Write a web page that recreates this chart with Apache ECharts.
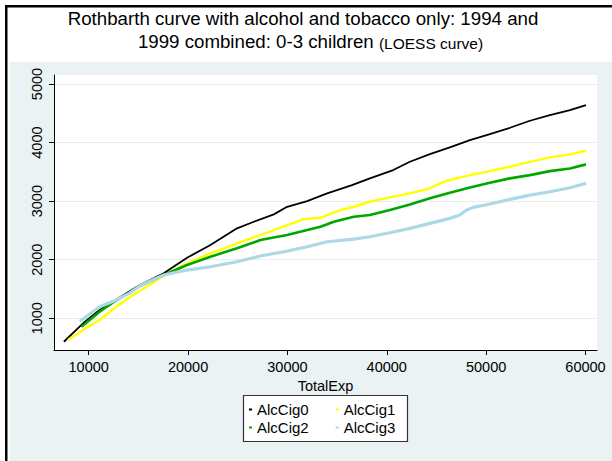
<!DOCTYPE html>
<html><head><meta charset="utf-8">
<script src="https://cdn.jsdelivr.net/npm/echarts@6/dist/echarts.min.js"></script>
<style>html,body{margin:0;padding:0;background:#fff}#c{width:612px;height:461px}</style>
</head><body><div id="c"></div><script>
// ---- data ----
var xTicks = [10000, 20000, 30000, 40000, 50000, 60000];
var yTicks = [1000, 2000, 3000, 4000, 5000];
var seriesNames = ['AlcCig0', 'AlcCig1', 'AlcCig2', 'AlcCig3'];

var alc0X = [7500, 9430, 11100, 12290, 15150, 17550, 19900, 22250, 24930, 26620, 28630, 29970, 31990, 34000, 36500, 38300, 40650, 42330, 44340, 46350, 48370, 50380, 52400, 54410, 56420, 58440, 60050];
var alc0Y = [600, 915, 1142, 1270, 1568, 1768, 2034, 2251, 2536, 2649, 2775, 2904, 3002, 3133, 3275, 3389, 3531, 3673, 3804, 3918, 4043, 4145, 4253, 4373, 4469, 4555, 4640];

var alc1X = [7900, 9430, 11100, 12790, 14460, 16140, 17550, 19900, 22250, 24930, 27280, 29970, 31650, 33330, 35340, 36690, 38300, 40310, 42330, 44340, 45350, 46020, 48370, 50380, 52400, 54410, 56420, 58440, 60050];
var alc1Y = [630, 800, 971, 1198, 1398, 1568, 1725, 1939, 2109, 2280, 2422, 2592, 2694, 2717, 2848, 2905, 2990, 3065, 3133, 3218, 3303, 3348, 3445, 3513, 3587, 3672, 3747, 3799, 3860];

var alc2X = [9265, 11100, 12450, 15200, 17550, 19900, 22250, 24930, 27280, 29970, 31990, 33330, 34670, 36690, 38300, 40310, 42330, 44340, 46350, 48370, 50380, 52400, 54410, 56420, 58440, 60050];
var alc2Y = [857, 1113, 1270, 1556, 1739, 1910, 2052, 2195, 2336, 2422, 2507, 2564, 2649, 2734, 2763, 2848, 2945, 3048, 3143, 3235, 3314, 3389, 3445, 3513, 3559, 3628];

var alc3X = [9100, 11100, 12450, 14130, 15200, 17550, 19900, 22250, 24930, 27280, 29970, 31990, 34000, 36690, 38300, 40310, 42330, 44340, 46350, 47360, 48030, 48700, 50380, 52400, 54410, 56420, 58440, 60050];
var alc3Y = [950, 1198, 1290, 1430, 1560, 1739, 1824, 1881, 1966, 2063, 2148, 2222, 2307, 2353, 2392, 2461, 2536, 2621, 2706, 2763, 2848, 2894, 2951, 3031, 3104, 3160, 3229, 3303];

var titleLine1 = 'Rothbarth curve with alcohol and tobacco only: 1994 and';
var titleLine2 = '1999 combined: 0-3 children';
var titleNote = '(LOESS curve)';
var xName = 'TotalExp';

// ---- build ----
function zip(xs, ys) { return xs.map(function (x, i) { return [x, ys[i]]; }); }
function plain(v) { return String(v); }
var colors = ['#000000', '#FFFF00', '#00A600', '#ADD8E6'];
var widths = [1.8, 2.4, 2.6, 3.2];
var allData = [zip(alc0X, alc0Y), zip(alc1X, alc1Y), zip(alc2X, alc2Y), zip(alc3X, alc3Y)];

var FONT = '"Liberation Sans", Arial, sans-serif';
var chart = echarts.init(document.getElementById('c'), null, { renderer: 'svg' });

var series = seriesNames.map(function (n, i) {
  return {
    name: n, type: 'line', data: allData[i], showSymbol: false, symbol: 'rect', symbolSize: 3,
    itemStyle: { color: colors[i] },
    lineStyle: { color: colors[i], width: widths[i] },
    z: 3 + i, silent: true, animation: false
  };
});

var legendCommon = {
  orient: 'horizontal', icon: 'rect', itemWidth: 3, itemHeight: 2, itemGap: 27,
  textStyle: { fontSize: 15, color: '#000', fontFamily: FONT },
  padding: 0, selectedMode: false, z: 10
};

chart.setOption({
  backgroundColor: '#EAF2F3',
  animation: false,
  grid: { left: 54, right: 15, top: 75, bottom: 111, show: true, backgroundColor: '#FFFFFF', borderWidth: 0, outerBoundsMode: 'none', containLabel: false },
  xAxis: {
    type: 'value', min: 6506, max: 61160,
    name: xName, nameLocation: 'middle', nameGap: 18,
    nameTextStyle: { fontSize: 14.5, color: '#000', fontFamily: FONT },
    axisLine: { show: true, onZero: false, lineStyle: { color: '#000', width: 1 } },
    axisTick: { show: true, length: 5, customValues: xTicks, lineStyle: { color: '#000' } },
    axisLabel: { customValues: xTicks, formatter: plain, margin: 9, fontSize: 14.5, color: '#000', fontFamily: FONT },
    splitLine: { show: false }
  },
  yAxis: {
    type: 'value', min: 459, max: 5154,
    axisLine: { show: true, onZero: false, lineStyle: { color: '#000', width: 1 } },
    axisTick: { show: true, length: 5, customValues: yTicks, lineStyle: { color: '#000' } },
    axisLabel: { customValues: yTicks, formatter: plain, rotate: 90, margin: 10, fontSize: 14.5, color: '#000', fontFamily: FONT },
    splitLine: { show: true, lineStyle: { color: '#E6EEF0', width: 1 } }
  },
  legend: [
    Object.assign({}, legendCommon, { data: seriesNames.slice(0, 2), left: 249, top: 402 }),
    Object.assign({}, legendCommon, { data: seriesNames.slice(2, 4), left: 249, top: 420 })
  ],
  graphic: [
    { type: 'rect', shape: { x: 0, y: 0, width: 612, height: 62 }, style: { fill: '#FFFFFF' }, silent: true },
    { type: 'rect', shape: { x: 0, y: 0, width: 10, height: 461 }, style: { fill: '#FFFFFF' }, silent: true },
    { type: 'rect', shape: { x: 5, y: 5, width: 2.5, height: 456 }, style: { fill: '#000' }, silent: true },
    { type: 'rect', shape: { x: 5, y: 5, width: 607, height: 2.5 }, style: { fill: '#000' }, silent: true },
    { type: 'text', x: 303, y: 9, silent: true,
      style: { text: titleLine1, textAlign: 'center', textVerticalAlign: 'top', font: '18.7px ' + FONT, fill: '#000' } },
    { type: 'text', x: 310.5, y: 31, silent: true,
      style: { text: '{a|' + titleLine2 + ' }{b|' + titleNote + '}', textAlign: 'center', textVerticalAlign: 'top', fill: '#000',
        rich: { a: { fontSize: 18.7, fontFamily: FONT, verticalAlign: 'bottom', lineHeight: 20 },
                b: { fontSize: 15.5, fontFamily: FONT, verticalAlign: 'bottom', lineHeight: 18.5 } } } },
    { type: 'rect', z: 1, shape: { x: 243.5, y: 395.5, width: 164, height: 46 }, style: { fill: '#FFFFFF', stroke: '#333', lineWidth: 1.2 }, silent: true }
  ],
  series: series
});
</script></body></html>
